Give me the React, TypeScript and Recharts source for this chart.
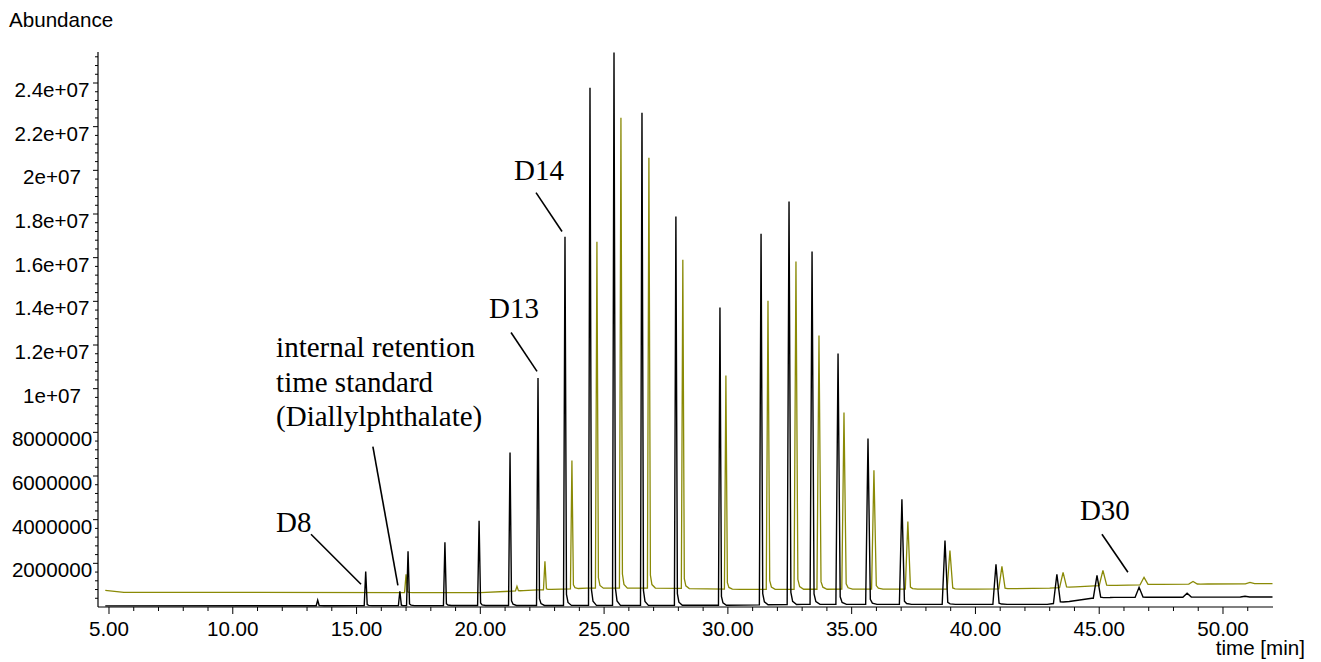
import React from 'react';
import { LineChart, Line, XAxis, YAxis, ReferenceLine, ReferenceDot } from 'recharts';

// peak apexes: retention time [min] and abundance
const blackPeakTimes = [
  13.43, 15.37, 16.75, 17.08, 18.57, 19.95, 21.2, 22.33, 23.42, 24.43, 25.4, 26.53, 27.9, 29.68,
  31.34, 32.47, 33.4, 34.45, 35.66, 37.03, 38.77, 40.83, 43.29, 44.91, 46.61, 48.55, 50.89,
];
const blackPeakHeights = [
  0.31e6, 1.63e6, 0.72e6, 2.55e6, 2.96e6, 3.95e6, 7.08e6, 10.49e6, 16.96e6, 23.78e6, 25.4e6, 22.64e6,
  17.88e6, 13.72e6, 17.1e6, 18.57e6, 16.28e6, 11.61e6, 7.72e6, 4.93e6, 3.05e6, 1.95e6, 1.5e6, 1.45e6,
  0.9e6, 0.63e6, 0.49e6,
];
const olivePeakTimes = [
  17.0, 21.48, 22.61, 23.7, 24.71, 25.68, 26.81, 28.18, 29.92, 31.62, 32.75, 33.68, 34.69, 35.9,
  37.27, 38.97, 41.07, 43.54, 45.15, 46.81, 48.79, 51.09,
];
const olivePeakHeights = [
  1.5e6, 0.95e6, 2.09e6, 6.71e6, 16.73e6, 22.41e6, 20.58e6, 15.91e6, 10.6e6, 14.03e6, 15.82e6,
  12.44e6, 8.91e6, 6.26e6, 3.92e6, 2.59e6, 1.86e6, 1.59e6, 1.68e6, 1.36e6, 1.17e6, 1.13e6,
];

// baselines between peaks
const blackBaseTimes = [4.85, 30, 33, 42.9, 43.7, 44.7, 45.6, 52.0];
const blackBaseValues = [0.05e6, 0.08e6, 0.12e6, 0.12e6, 0.24e6, 0.4e6, 0.44e6, 0.46e6];
const oliveBaseTimes = [4.85, 5.6, 20, 22.3, 24.3, 27, 30.5, 40, 43, 44.8, 47.5, 52.0];
const oliveBaseValues = [0.76e6, 0.67e6, 0.66e6, 0.78e6, 0.86e6, 0.87e6, 0.81e6, 0.82e6, 0.86e6, 0.97e6, 1.04e6, 1.07e6];

const xMajorTicks = [5, 10, 15, 20, 25, 30, 35, 40, 45, 50];
const xTickLabels = ['5.00', '10.00', '15.00', '20.00', '25.00', '30.00', '35.00', '40.00', '45.00', '50.00'];
const yMajorTicks = [2e6, 4e6, 6e6, 8e6, 10e6, 12e6, 14e6, 16e6, 18e6, 20e6, 22e6, 24e6];
const yTickLabels = [
  '2000000', '4000000', '6000000', '8000000', '1e+07', '1.2e+07', '1.4e+07', '1.6e+07', '1.8e+07',
  '2e+07', '2.2e+07', '2.4e+07',
];

const annotationTexts = [
  { text: 'D8', t: 11.75, v: 3.44e6 },
  { text: 'internal retention', t: 11.75, v: 11.47e6 },
  { text: 'time standard', t: 11.75, v: 9.87e6 },
  { text: '(Diallylphthalate)', t: 11.75, v: 8.29e6 },
  { text: 'D13', t: 20.35, v: 13.24e6 },
  { text: 'D14', t: 21.36, v: 19.57e6 },
  { text: 'D30', t: 44.22, v: 3.97e6 },
];
const annotationLines = [
  [13.16, 3.33e6, 15.18, 1.04e6],
  [15.66, 7.35e6, 16.67, 0.99e6],
  [21.24, 12.57e6, 22.29, 10.79e6],
  [22.25, 18.98e6, 23.3, 17.2e6],
  [45.11, 3.33e6, 46.16, 1.59e6],
];

const SANS = '"Liberation Sans", Arial, sans-serif';
const SERIF = '"Liberation Serif", "Times New Roman", serif';

const baseAt = (ts: number[], vs: number[], t: number) => {
  if (t <= ts[0]) return vs[0];
  for (let i = 1; i < ts.length; i++) {
    if (t <= ts[i]) {
      const f = (t - ts[i - 1]) / (ts[i] - ts[i - 1]);
      return vs[i - 1] + f * (vs[i] - vs[i - 1]);
    }
  }
  return vs[vs.length - 1];
};

// turn baseline + apex lists into the point table a Line needs (sharp rise, short tail)
const buildTrace = (bt: number[], bv: number[], pt: number[], ph: number[]) => {
  const shape = (t: number) => {
    const s = 0.02 + 0.006 * Math.max(0, t - 30);
    return { left: t - 0.04 - s, knee: t + 0.04 + s, mid: t + 0.09 + 1.6 * s, end: t + 0.2 + 3 * s };
  };
  const pts: { t: number; v: number }[] = [];
  bt.forEach((t, i) => {
    const inside = pt.some((p) => {
      const sh = shape(p);
      return t >= sh.left && t <= sh.end;
    });
    if (!inside) pts.push({ t, v: bv[i] });
  });
  pt.forEach((t, i) => {
    const sh = shape(t);
    const kb = baseAt(bt, bv, sh.knee);
    const mb = baseAt(bt, bv, sh.mid);
    pts.push({ t: sh.left, v: baseAt(bt, bv, sh.left) });
    pts.push({ t, v: ph[i] });
    pts.push({ t: sh.knee, v: kb + 0.03 * (ph[i] - kb) });
    pts.push({ t: sh.mid, v: mb + 0.008 * (ph[i] - mb) });
    pts.push({ t: sh.end, v: baseAt(bt, bv, sh.end) });
  });
  return pts.sort((a, b) => a.t - b.t);
};

const blackTrace = buildTrace(blackBaseTimes, blackBaseValues, blackPeakTimes, blackPeakHeights);
const oliveTrace = buildTrace(oliveBaseTimes, oliveBaseValues, olivePeakTimes, olivePeakHeights);

const xTicks = Array.from({ length: 47 }, (_, i) => 5 + i);
const yTicks = Array.from({ length: 63 }, (_, i) => (i + 1) * 4e5);

const XTick = (props: any) => {
  const { x, y, payload } = props;
  const idx = xMajorTicks.indexOf(payload.value);
  const major = idx >= 0;
  return (
    <g>
      <line x1={x} x2={x} y1={y} y2={y + (major ? 7 : 4)} stroke="#000" strokeWidth={1} />
      {major && (
        <text x={x} y={y + 28.5} textAnchor="middle" fontFamily={SANS} fontSize={20.6} fill="#000">
          {xTickLabels[idx]}
        </text>
      )}
    </g>
  );
};

const YTick = (props: any) => {
  const { x, y, payload } = props;
  const idx = yMajorTicks.indexOf(payload.value);
  const major = idx >= 0;
  return (
    <g>
      <line x1={x - (major ? 5 : 3)} x2={x} y1={y} y2={y} stroke="#000" strokeWidth={1} />
      {major && (
        <text x={x - 46} y={y + 14} textAnchor="middle" fontFamily={SANS} fontSize={20.6} fill="#000">
          {yTickLabels[idx]}
        </text>
      )}
    </g>
  );
};

const App: React.FC = () => {
  return (
    <div style={{ position: 'absolute', left: 0, top: 0, width: 1321, height: 662, background: '#fff' }}>
      <LineChart width={1321} height={662} margin={{ top: 52, right: 48, bottom: 0, left: 0 }}>
        <XAxis
          type="number"
          dataKey="t"
          domain={[4.556, 52.02]}
          ticks={xTicks}
          interval={0}
          tick={<XTick />}
          tickLine={false}
          tickSize={0}
          tickMargin={0}
          height={55}
          axisLine={{ stroke: '#000', strokeWidth: 1.2 }}
          label={() => (
            <text x={1305} y={655} textAnchor="end" fontFamily={SANS} fontSize={20.6} fill="#000">
              time [min]
            </text>
          )}
        />
        <YAxis
          type="number"
          domain={[0, 25.42e6]}
          ticks={yTicks}
          interval={0}
          tick={<YTick />}
          tickLine={false}
          tickSize={0}
          tickMargin={0}
          width={98}
          axisLine={{ stroke: '#000', strokeWidth: 1.2 }}
          label={() => (
            <text x={9} y={26.7} fontFamily={SANS} fontSize={20.6} fill="#000">
              Abundance
            </text>
          )}
        />
        <Line
          data={oliveTrace}
          dataKey="v"
          type="linear"
          stroke="#8a8a06"
          strokeWidth={1.3}
          dot={false}
          activeDot={false}
          isAnimationActive={false}
        />
        <Line
          data={blackTrace}
          dataKey="v"
          type="linear"
          stroke="#000"
          strokeWidth={1.4}
          dot={false}
          activeDot={false}
          isAnimationActive={false}
        />
        {annotationLines.map((l, i) => (
          <ReferenceLine
            key={`al-${i}`}
            segment={[
              { x: l[0], y: l[1] },
              { x: l[2], y: l[3] },
            ]}
            stroke="#000"
            strokeWidth={1.6}
          />
        ))}
        {annotationTexts.map((a, i) => (
          <ReferenceDot
            key={`at-${i}`}
            x={a.t}
            y={a.v}
            r={0}
            shape={(p: any) => (
              <text x={p.cx} y={p.cy} fontFamily={SERIF} fontSize={29} fill="#000">
                {a.text}
              </text>
            )}
          />
        ))}
      </LineChart>
    </div>
  );
};

export default App;
